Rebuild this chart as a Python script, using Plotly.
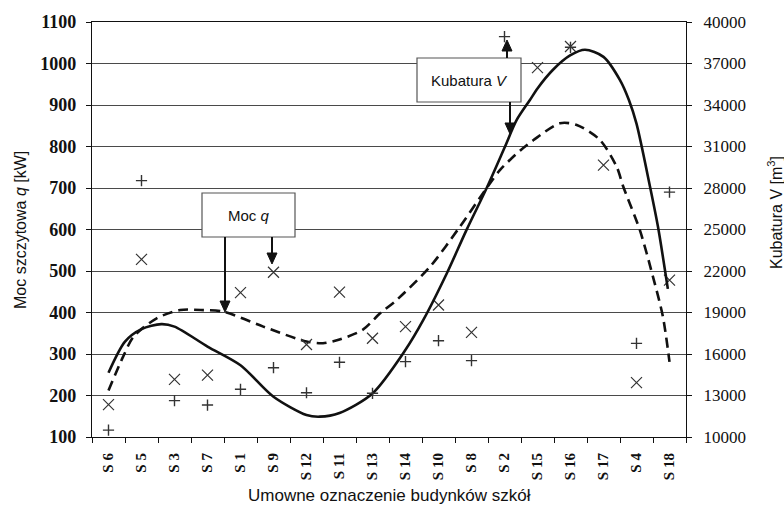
import plotly.graph_objects as go

# School buildings (category order along the x axis)
categories = ["S 6", "S 5", "S 3", "S 7", "S 1", "S 9", "S 12", "S 11", "S 13",
              "S 14", "S 10", "S 8", "S 2", "S 15", "S 16", "S 17", "S 4", "S 18"]

# Peak heating power q [kW] (left axis, "x" markers)
moc_q = [178, 528, 239, 249, 448, 497, 323, 449, 338,
         366, 418, 352, None, 990, 1041, 755, 231, 478]

# Building volume V [m3] (right axis, "+" markers)
kubatura_v = [10500, 28530, 12630, 12310, 13450, 15010, 13200, 15400, 13160,
              15450, 16960, 15520, 38940, None, 38170, None, 16770, 27700]

# Trend curve for q (dashed), sampled along the category axis
trend_q_pos = [0.0, 0.44, 0.76, 1.46, 2.17, 2.8, 3.48, 4.69, 6.0, 6.5, 7.0, 7.7,
               8.23, 8.73, 9.74, 10.65, 11.46, 11.86, 12.47, 12.87, 13.68, 14.19,
               14.89, 15.4, 15.6, 16.1, 16.5, 16.8, 17.0]
trend_q_val = [212, 293, 342, 386, 406, 406, 402, 366, 330, 326, 335, 358,
               398, 430, 510, 607, 700, 743, 790, 815, 856, 852,
               816, 751, 703, 599, 486, 390, 281]

# Trend curve for V (solid), sampled along the category axis
trend_v_pos = [0.0, 0.5, 1.0, 1.6, 2.0, 3.0, 4.0, 5.0, 6.0, 6.4, 7.0, 8.0, 9.0,
               9.54, 10.25, 10.85, 11.46, 12.0, 12.37, 12.77, 13.0, 13.47, 14.0,
               14.44, 15.0, 15.5, 15.77, 16.0, 16.41, 16.65, 16.95]
trend_v_val = [14650, 16900, 17800, 18160, 17980, 16540, 15190, 12910, 11590,
               11470, 11740, 13150, 16300, 18460, 21820, 24970, 28000, 30910,
               32920, 34360, 35200, 36550, 37600, 37990, 37480, 35800, 34360,
               32650, 28090, 25210, 20710]

q_ticks = list(range(100, 1101, 100))
v_ticks = list(range(10000, 40001, 3000))

# plot-area geometry in pixels, used to place boxes and arrows
PL, PT, PW, PH = 92, 22, 594, 415


def px(x):
    return (x - PL) / PW


def py(y):
    return (PT + PH - y) / PH


SERIF = "Liberation Serif, Times New Roman, serif"
SANS = "Liberation Sans, Arial, sans-serif"
INK = "#111111"
MARK = "#333333"

x_idx = list(range(len(categories)))

fig = go.Figure()

fig.add_trace(go.Scatter(
    x=trend_q_pos, y=trend_q_val, mode="lines", yaxis="y",
    line=dict(color=INK, width=2.6, dash="10px,6px", shape="spline", smoothing=0.8),
    hoverinfo="skip", showlegend=False))

fig.add_trace(go.Scatter(
    x=trend_v_pos, y=trend_v_val, mode="lines", yaxis="y2",
    line=dict(color=INK, width=2.6, shape="spline", smoothing=0.8),
    hoverinfo="skip", showlegend=False))

fig.add_trace(go.Scatter(
    x=x_idx, y=moc_q, mode="markers", yaxis="y", name="Moc q",
    marker=dict(symbol="x-thin-open", size=11, color=MARK,
                line=dict(color=MARK, width=1.2)),
    showlegend=False))

fig.add_trace(go.Scatter(
    x=x_idx, y=kubatura_v, mode="markers", yaxis="y2", name="Kubatura V",
    marker=dict(symbol="cross-thin-open", size=8, color=MARK,
                line=dict(color=MARK, width=1.4)),
    showlegend=False))

fig.update_layout(
    width=784, height=508,
    margin=dict(l=PL, r=784 - PL - PW, t=PT, b=508 - PT - PH, pad=0),
    paper_bgcolor="white", plot_bgcolor="white",
    showlegend=False,
    xaxis=dict(
        range=[-0.5, len(categories) - 0.5],
        tickmode="array", tickvals=x_idx, ticktext=categories,
        ticks="", tickangle=-90, ticklabelstandoff=9,
        tickfont=dict(family=SERIF, size=15, color=INK, weight="bold"),
        showgrid=False, zeroline=False,
        showline=True, linecolor=INK, linewidth=1.2, mirror=True,
        minor=dict(tickmode="array",
                   tickvals=[i - 0.5 for i in range(len(categories) + 1)],
                   ticks="outside", ticklen=5, tickwidth=1.2, tickcolor=INK,
                   showgrid=False),
    ),
    yaxis=dict(
        range=[100, 1100], tickmode="array", tickvals=q_ticks,
        ticks="outside", ticklen=5, tickwidth=1.2, tickcolor=INK,
        ticklabelstandoff=6,
        tickfont=dict(family=SERIF, size=18, color=INK, weight="bold"),
        showgrid=True, gridcolor="#4a4a4a", gridwidth=1.2,
        zeroline=False, showline=True, linecolor=INK, linewidth=1.2,
    ),
    yaxis2=dict(
        range=[10000, 40000], tickmode="array", tickvals=v_ticks,
        tickformat="d",
        overlaying="y", side="right",
        ticks="outside", ticklen=5, tickwidth=1.2, tickcolor=INK,
        ticklabelstandoff=8,
        tickfont=dict(family=SERIF, size=17, color=INK),
        showgrid=False, zeroline=False,
        showline=True, linecolor=INK, linewidth=1.4,
    ),
)

# Axis titles
fig.add_annotation(text="Moc szczytowa <i>q</i> [kW]", x=px(21), y=py(230),
                   xref="paper", yref="paper", xanchor="center", yanchor="middle",
                   showarrow=False, textangle=-90,
                   font=dict(family=SANS, size=16, color=INK))
fig.add_annotation(text="Kubatura V [m<sup>3</sup>]", x=px(775), y=py(213),
                   xref="paper", yref="paper", xanchor="center", yanchor="middle",
                   showarrow=False, textangle=-90,
                   font=dict(family=SANS, size=16, color=INK))
fig.add_annotation(text="Umowne oznaczenie budynków szkół", x=px(389), y=py(495),
                   xref="paper", yref="paper", xanchor="center", yanchor="middle",
                   showarrow=False,
                   font=dict(family=SANS, size=17, color=INK))

# Label boxes
boxes = [
    ("Moc <i>q</i>", 202, 193, 295, 237),
    ("Kubatura <i>V</i>", 417, 58, 521, 102),
]
for text, x0, y0, x1, y1 in boxes:
    fig.add_shape(type="rect", xref="paper", yref="paper",
                  x0=px(x0), x1=px(x1), y0=py(y1), y1=py(y0),
                  fillcolor="white", line=dict(color="#555555", width=1.2),
                  layer="above")
    fig.add_annotation(text=text, x=px((x0 + x1) / 2), y=py((y0 + y1) / 2),
                       xref="paper", yref="paper", xanchor="center", yanchor="middle",
                       showarrow=False,
                       font=dict(family=SANS, size=15, color=INK))

# Vertical arrows: (x, tail y, tip y) in pixels
arrows = [
    (225, 237, 312),
    (272, 237, 264),
    (507, 58, 40),
    (510, 102, 134),
]
HEAD_LEN, HEAD_HALF = 11, 5
for ax_, ty, hy in arrows:
    sgn = 1 if hy > ty else -1
    base = hy - sgn * HEAD_LEN
    fig.add_shape(type="line", xref="paper", yref="paper",
                  x0=px(ax_), x1=px(ax_), y0=py(ty), y1=py(base),
                  line=dict(color=INK, width=2), layer="above")
    path = "M {:.5f},{:.5f} L {:.5f},{:.5f} L {:.5f},{:.5f} Z".format(
        px(ax_), py(hy), px(ax_ - HEAD_HALF), py(base), px(ax_ + HEAD_HALF), py(base))
    fig.add_shape(type="path", xref="paper", yref="paper", path=path,
                  fillcolor=INK, line=dict(color=INK, width=1), layer="above")

fig.write_html("out.html")
